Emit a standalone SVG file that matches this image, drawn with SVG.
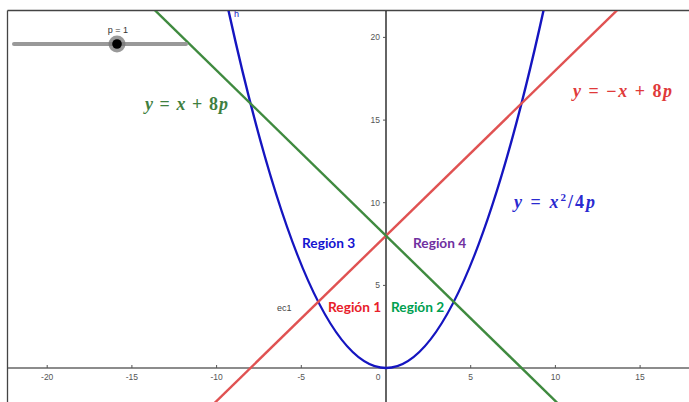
<svg xmlns="http://www.w3.org/2000/svg" width="689" height="402" viewBox="0 0 689 402">
<style>
.tick{stroke:#555;stroke-width:1}
.tl{font-family:"Liberation Sans",Arial,sans-serif;font-size:8.5px;fill:#555}
.xl{text-anchor:middle}
.yl{text-anchor:end}
.math{font-family:"Liberation Serif","Times New Roman",serif;font-weight:bold;font-size:18px}
.math .v{font-style:italic}
.reg{font-family:Lato,"Liberation Sans",sans-serif;font-weight:bold;font-size:13.7px}
.curve{fill:none;stroke-width:2.4}
</style>
<defs>
<clipPath id="plot"><rect x="8" y="11" width="681" height="391"/></clipPath>
</defs>
<rect width="689" height="402" fill="#fff"/>
<g id="frame" stroke="#444" stroke-width="1.3">
<line x1="7.5" y1="10.5" x2="689" y2="10.5"/>
<line x1="7.5" y1="10.5" x2="7.5" y2="402"/>
</g>
<g id="axes">
<line x1="8" y1="368" x2="689" y2="368" stroke="#666" stroke-width="1.3"/>
<line x1="386" y1="11" x2="386" y2="402" stroke="#111" stroke-width="1.3"/>
<g class="tick">
<line x1="47.2" y1="365" x2="47.2" y2="368"/>
<line x1="131.9" y1="365" x2="131.9" y2="368"/>
<line x1="216.6" y1="365" x2="216.6" y2="368"/>
<line x1="301.3" y1="365" x2="301.3" y2="368"/>
<line x1="470.7" y1="365" x2="470.7" y2="368"/>
<line x1="555.4" y1="365" x2="555.4" y2="368"/>
<line x1="640.1" y1="365" x2="640.1" y2="368"/>
<line x1="383" y1="285.4" x2="386" y2="285.4"/>
<line x1="383" y1="202.7" x2="386" y2="202.7"/>
<line x1="383" y1="120.1" x2="386" y2="120.1"/>
<line x1="383" y1="37.4" x2="386" y2="37.4"/>
</g>
<g class="tl xl">
<text x="47.2" y="380">-20</text>
<text x="131.9" y="380">-15</text>
<text x="216.6" y="380">-10</text>
<text x="301.3" y="380">-5</text>
<text x="378" y="380">0</text>
<text x="470.7" y="380">5</text>
<text x="555.4" y="380">10</text>
<text x="640.1" y="380">15</text>
</g>
<g class="tl yl">
<text x="380" y="288.4">5</text>
<text x="380" y="205.7">10</text>
<text x="380" y="123.1">15</text>
<text x="380" y="40.4">20</text>
</g>
</g>
<g id="connectors" clip-path="url(#plot)">
<path id="parabola" class="curve" stroke="#1515c0" d="M226.8,2.8 Q386,733.2 545.2,2.8"/>
<line id="red-line" class="curve" stroke="#e05252" x1="182.7" y1="434.1" x2="640.1" y2="-12.2"/>
<line id="green-line" class="curve" stroke="#3f8a3f" x1="131.9" y1="-12.2" x2="589.3" y2="434.1"/>
<text x="234" y="17" font-family="Liberation Sans,Arial,sans-serif" font-size="9" fill="#1515c0">h</text>
</g>
<g id="slider">
<line x1="14" y1="44" x2="186" y2="44" stroke="#999" stroke-width="4" stroke-linecap="round"/>
<circle cx="117" cy="44" r="8.5" fill="#777" opacity="0.75"/>
<circle cx="117" cy="44" r="4.8" fill="#000"/>
<text x="118" y="33" text-anchor="middle" font-family="Liberation Sans,Arial,sans-serif" font-size="9" fill="#333">p = 1</text>
</g>
<g id="label-green" class="math" fill="#3f7f3f"><text x="145" y="110" textLength="83" lengthAdjust="spacing"><tspan class="v">y</tspan> = <tspan class="v">x</tspan> + 8<tspan class="v">p</tspan></text></g>
<g id="label-red" class="math" fill="#e03a3a"><text x="573" y="97" textLength="99" lengthAdjust="spacing"><tspan class="v">y</tspan> = −<tspan class="v">x</tspan> + 8<tspan class="v">p</tspan></text></g>
<g id="label-blue" class="math" fill="#2a2ad0"><text x="514" y="208" textLength="81" lengthAdjust="spacing"><tspan class="v">y</tspan> = <tspan class="v">x</tspan><tspan font-size="11" dy="-7">2</tspan><tspan dy="7">/4</tspan><tspan class="v">p</tspan></text></g>
<g id="region3" class="reg"><text x="302" y="248" fill="#1414d0">Región 3</text></g>
<g id="region4" class="reg"><text x="413" y="248" fill="#7030a0">Región 4</text></g>
<g id="region1" class="reg"><text x="328" y="312" fill="#e8202a">Región 1</text></g>
<g id="region2" class="reg"><text x="391" y="312" fill="#00a050">Región 2</text></g>
<g id="ec1"><text x="277" y="311" font-family="Liberation Sans,Arial,sans-serif" font-size="9" fill="#444">ec1</text></g>
</svg>
